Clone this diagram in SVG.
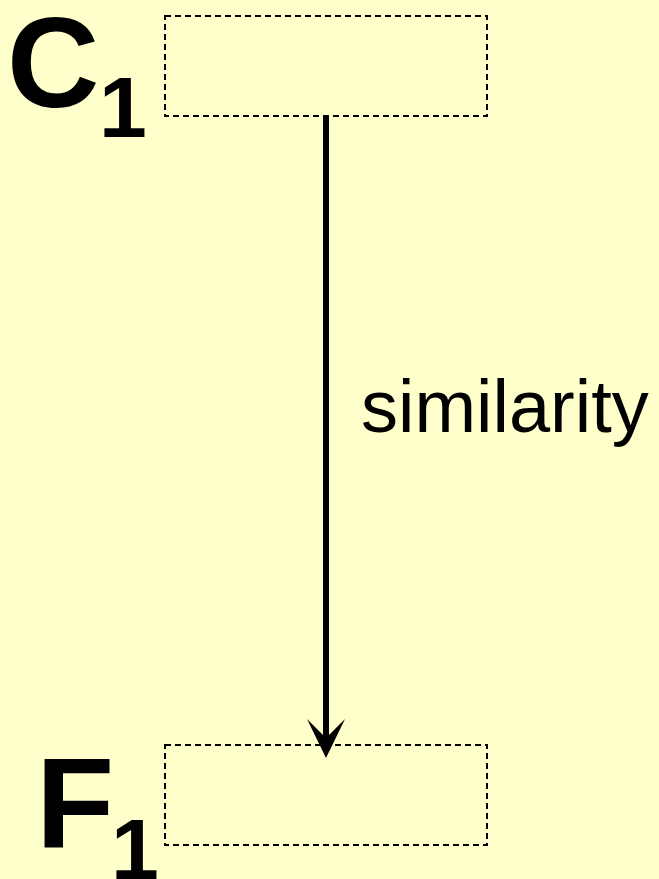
<svg xmlns="http://www.w3.org/2000/svg" width="659" height="879" viewBox="0 0 659 879">
<defs>
<style>
.box{fill:none;stroke:#000;stroke-width:2;stroke-dasharray:6,4}
.big{font-family:"Liberation Sans",Arial,sans-serif;font-weight:bold;font-size:128px;fill:#000}
.sub{font-family:"Liberation Sans",Arial,sans-serif;font-weight:bold;font-size:86px;fill:#000}
.lbl{font-family:"Liberation Sans",Arial,sans-serif;font-size:74px;fill:#000}
</style>
</defs>
<rect width="659" height="879" fill="#FFFFCC"/>
<g id="connectors">
<line x1="326" y1="116" x2="326" y2="745" stroke="#000" stroke-width="6"/>
<path d="M326,758 L307,719 L326,738 L345,719 Z" fill="#000"/>
<text class="lbl" x="361" y="432">similarity</text>
</g>
<g id="node-c1">
<rect class="box" x="165" y="16" width="322" height="100"/>
<text class="big" x="7" y="107">C</text>
<text class="sub" x="99" y="137">1</text>
</g>
<g id="node-f1">
<rect class="box" x="165" y="745" width="322" height="100"/>
<text class="big" x="36" y="847">F</text>
<text class="sub" x="111" y="879">1</text>
</g>
</svg>
